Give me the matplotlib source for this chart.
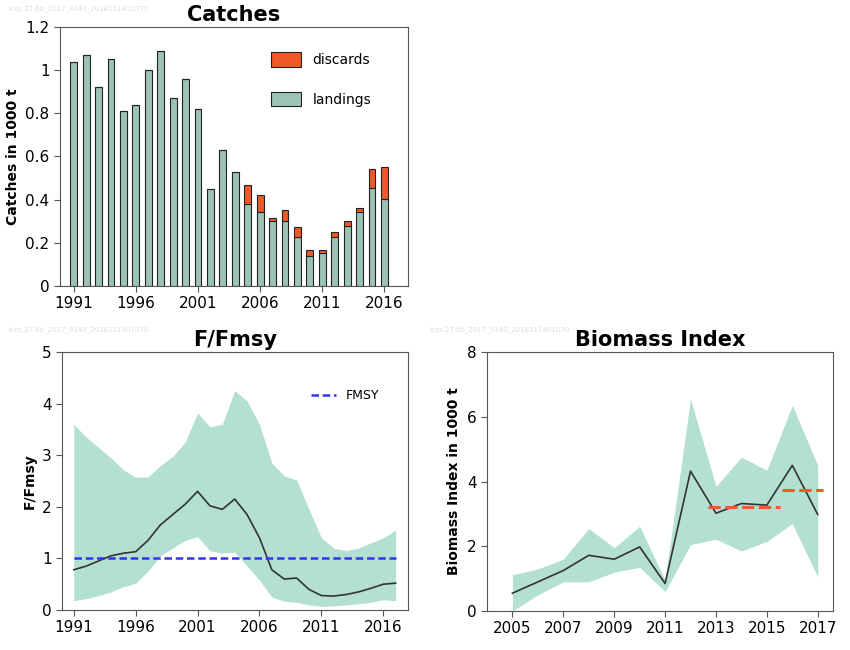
import numpy as np
import matplotlib
matplotlib.use("Agg")
import matplotlib.pyplot as plt

# ---------- Data ----------
catch_years = list(range(1991, 2017))
landings = [1.04, 1.07, 0.92, 1.05, 0.81, 0.84, 1.0, 1.09, 0.87, 0.96, 0.82, 0.45, 0.63, 0.53,
            0.38, 0.345, 0.30, 0.30, 0.225, 0.14, 0.155, 0.225, 0.28, 0.345, 0.455, 0.405]
discards = [0, 0, 0, 0, 0, 0, 0, 0, 0, 0, 0, 0, 0, 0,
            0.09, 0.075, 0.015, 0.05, 0.05, 0.025, 0.01, 0.025, 0.02, 0.015, 0.085, 0.145]

f_years = list(range(1991, 2018))
f_median = [0.78, 0.85, 0.95, 1.05, 1.1, 1.13, 1.35, 1.65, 1.85, 2.05, 2.3, 2.02, 1.95, 2.15,
            1.85, 1.4, 0.78, 0.6, 0.62, 0.4, 0.28, 0.27, 0.3, 0.35, 0.42, 0.5, 0.52]
f_upper = [3.6, 3.35, 3.15, 2.95, 2.72, 2.57, 2.58, 2.8, 2.98, 3.25, 3.82, 3.55, 3.6, 4.25,
           4.05, 3.6, 2.85, 2.6, 2.52, 1.95, 1.4, 1.2, 1.15, 1.2, 1.3, 1.4, 1.55]
f_lower = [0.18, 0.22, 0.28, 0.35, 0.45, 0.52, 0.75, 1.05, 1.2, 1.35, 1.42, 1.15, 1.1, 1.12,
           0.85, 0.58, 0.25, 0.17, 0.15, 0.1, 0.07, 0.08, 0.1, 0.12, 0.15, 0.2, 0.18]
fmsy = 1.0

b_years = list(range(2005, 2018))
b_median = [0.55, 0.9, 1.25, 1.72, 1.6, 1.98, 0.85, 4.32, 3.02, 3.32, 3.27, 4.5, 2.98]
b_upper = [1.12, 1.3, 1.6, 2.55, 1.95, 2.62, 0.95, 6.55, 3.85, 4.75, 4.35, 6.35, 4.5]
b_lower = [0.0, 0.5, 0.9, 0.9, 1.2, 1.35, 0.6, 2.05, 2.22, 1.85, 2.15, 2.7, 1.05]
b_mean_x = [[2012.7, 2015.5], [2015.6, 2017.2]]
b_mean_y = [3.2, 3.75]

green = "#9dc3b5"
band = "#b3e0d3"
orange = "#f05a28"
wm = "ices.27.6b_2017_9240_2018111401070"


def style(ax):
    for s in ax.spines.values():
        s.set_color("#555555")
    ax.tick_params(labelsize=11, length=4, color="#555555")


fig = plt.figure(figsize=(8.5, 6.5), dpi=100)

# ---------- Catches ----------
ax1 = fig.add_axes([60 / 850, 1 - 286 / 650, 348 / 850, 259 / 650])
ax1.bar(catch_years, landings, width=0.55, color=green, edgecolor="#222222", linewidth=0.8, label="landings")
ax1.bar(catch_years, discards, width=0.55, bottom=landings, color=orange, edgecolor="#222222",
        linewidth=0.8, label="discards")
ax1.set_xlim(1989.9, 2017.9)
ax1.set_ylim(0, 1.2)
ax1.set_xticks([1991, 1996, 2001, 2006, 2011, 2016])
ax1.set_yticks([0, 0.2, 0.4, 0.6, 0.8, 1.0, 1.2])
ax1.set_yticklabels(["0", "0.2", "0.4", "0.6", "0.8", "1", "1.2"])
ax1.set_ylabel("Catches in 1000 t", fontsize=10, fontweight="bold")
ax1.set_title("Catches", fontsize=15, fontweight="bold", pad=4)
h, l = ax1.get_legend_handles_labels()
ax1.legend(h[::-1], l[::-1], loc="upper right", frameon=False, fontsize=10, labelspacing=1.8,
           handlelength=2.2, handleheight=1.2, bbox_to_anchor=(0.93, 0.95))
style(ax1)
fig.text(0.01, 0.985, wm, fontsize=5, color="#dddddd")

# ---------- F/Fmsy ----------
ax2 = fig.add_axes([62 / 850, 1 - 610 / 650, 346 / 850, 258 / 650])
ax2.fill_between(f_years, f_lower, f_upper, color=band, linewidth=0)
ax2.plot(f_years, f_median, color="#333333", linewidth=1.2)
ax2.axhline(fmsy, xmin=(1991 - 1990.05) / (2018 - 1990.05), xmax=(2017 - 1990.05) / (2018 - 1990.05),
            color="#3333ee", linestyle="--", dashes=(3, 1.5), linewidth=1.8, label="FMSY")
ax2.set_xlim(1990.05, 2018)
ax2.set_ylim(0, 5)
ax2.set_xticks([1991, 1996, 2001, 2006, 2011, 2016])
ax2.set_ylabel("F/Fmsy", fontsize=10, fontweight="bold")
ax2.set_title("F/Fmsy", fontsize=15, fontweight="bold", pad=4)
ax2.legend(loc="upper right", frameon=False, fontsize=9, bbox_to_anchor=(0.95, 0.9))
style(ax2)
fig.text(0.01, 0.49, wm, fontsize=5, color="#dddddd")

# ---------- Biomass Index ----------
ax3 = fig.add_axes([487 / 850, 1 - 611 / 650, 346 / 850, 259 / 650])
ax3.fill_between(b_years, b_lower, b_upper, color=band, linewidth=0)
ax3.plot(b_years, b_median, color="#333333", linewidth=1.2)
for xs, y in zip(b_mean_x, b_mean_y):
    ax3.plot(xs, [y, y], color=orange, linestyle="--", dashes=(4, 1.5), linewidth=2.2)
ax3.set_xlim(2004.0, 2017.6)
ax3.set_ylim(0, 8)
ax3.set_xticks(list(range(2005, 2018, 2)))
ax3.set_yticks([0, 2, 4, 6, 8])
ax3.set_ylabel("Biomass Index in 1000 t", fontsize=10, fontweight="bold")
ax3.set_title("Biomass Index", fontsize=15, fontweight="bold", pad=4)
style(ax3)
fig.text(0.505, 0.49, wm, fontsize=5, color="#dddddd")

fig.savefig("out.png", dpi=100)
